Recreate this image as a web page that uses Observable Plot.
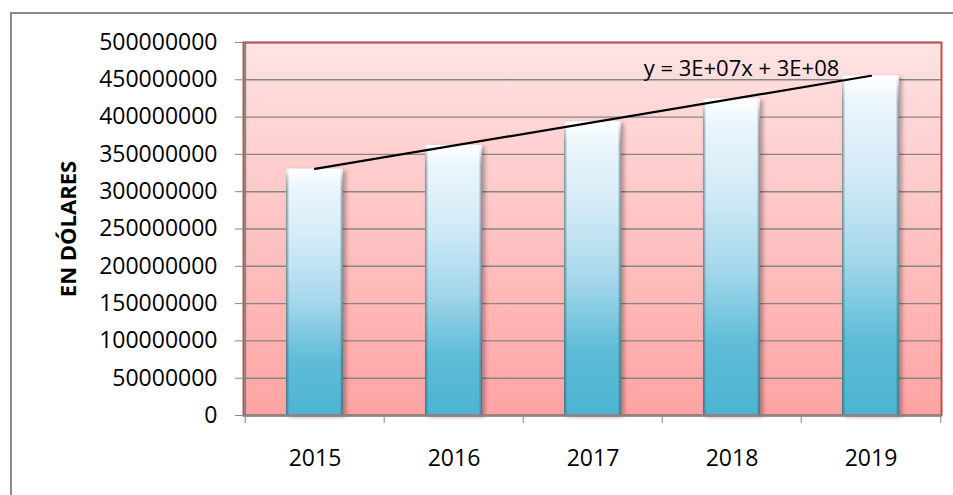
<!DOCTYPE html>
<html>
<head>
<meta charset="utf-8">
<script src="https://cdn.jsdelivr.net/npm/d3@7"></script>
<script src="https://cdn.jsdelivr.net/npm/@observablehq/plot@0.6"></script>
<style>
  html, body { margin: 0; padding: 0; background: #ffffff; overflow: hidden; }
  #wrap { position: relative; width: 953px; height: 495px; overflow: hidden; }
  #wrap svg { position: absolute; left: 0; top: 0; }
  #outer { position: absolute; left: 10px; top: 12px; width: 960px; height: 500px;
           border-left: 2px solid #8a8a8a; border-top: 2px solid #8a8a8a; pointer-events: none; }
</style>
</head>
<body>
<div id="wrap"><div id="outer"></div></div>
<script>
const years = ["2015", "2016", "2017", "2018", "2019"];
const amounts = [330200000, 362000000, 393700000, 424200000, 455000000];
const yTicks = [0, 50000000, 100000000, 150000000, 200000000, 250000000, 300000000, 350000000, 400000000, 450000000, 500000000];
const yTitle = "EN DÓLARES";
const trendLabel = "y = 3E+07x + 3E+08";

(function () {
const data = years.map((year, i) => ({year, value: amounts[i]}));

// least-squares trend line over the bars (index 0..n-1)
const n = amounts.length;
const mx = d3.mean(amounts, (_, i) => i);
const my = d3.mean(amounts);
const slope = d3.sum(amounts, (v, i) => (i - mx) * (v - my)) / d3.sum(amounts, (_, i) => (i - mx) ** 2);
const icpt = my - slope * mx;
const trend = [0, n - 1].map(i => ({year: years[i], value: icpt + slope * i}));

const W = 953, H = 495, ML = 243, MR = 12, MT = 42, MB = 80;
const step = (W - ML - MR) / years.length;

const chart = Plot.plot({
  width: W, height: H,
  marginLeft: ML, marginRight: MR, marginTop: MT, marginBottom: MB,
  style: {fontFamily: "'Open Sans', sans-serif", fontSize: "23px", color: "#000", background: "transparent", overflow: "visible"},
  x: {domain: years, padding: 0, label: null},
  y: {domain: [0, 500000000], label: null},
  marks: [
    Plot.frame({fill: "url(#bgGrad)", stroke: "none"}),
    Plot.gridY(yTicks, {stroke: "#868686", strokeOpacity: 1, strokeWidth: 1.4}),
    Plot.barY(data, {x: "year", y: "value", fill: "url(#barGrad)", insetLeft: 41, insetRight: 41}),
    Plot.barY(data, {x: "year", y: "value", fill: "url(#bevelGrad)", insetLeft: 41, insetRight: 41}),
    Plot.barY(data, {x: "year", y: "value", fill: "url(#topGrad)", insetLeft: 41, insetRight: 41}),
    Plot.frame({stroke: "#C0504D", strokeWidth: 2}),
    Plot.ruleX([years[0]], {dx: -step / 2, stroke: "#868686", strokeWidth: 2}),
    Plot.ruleY([0], {stroke: "#868686", strokeWidth: 2}),
    Plot.axisY(yTicks, {tickSize: 8, tickPadding: 18, tickFormat: d => String(d), stroke: "#868686", label: null}),
    Plot.axisX({tickSize: 0, tickPadding: 34, label: null}),
    Plot.axisX({tickSize: 8, text: null, dx: -step / 2, stroke: "#868686", label: null}),
    Plot.axisX([years[years.length - 1]], {tickSize: 8, text: null, dx: step / 2, stroke: "#868686", label: null}),
    Plot.line(trend, {x: "year", y: "value", stroke: "#000", strokeWidth: 2.2}),
    Plot.text([trendLabel], {text: d => d, frameAnchor: "top-right", dx: -200, dy: 18, textAnchor: "middle", fontSize: 22}),
    Plot.text([yTitle], {text: d => d, frameAnchor: "left", rotate: -90, dx: -175, textAnchor: "middle", fontWeight: "bold", fontSize: 22})
  ]
});

const svg = d3.select(chart);
const defs = svg.insert("defs", ":first-child");
const bg = defs.append("linearGradient").attr("id", "bgGrad").attr("x1", 0).attr("y1", 0).attr("x2", 0).attr("y2", 1);
bg.append("stop").attr("offset", "0%").attr("stop-color", "#FFE3E3");
bg.append("stop").attr("offset", "100%").attr("stop-color", "#FFA3A3");

const barG = defs.append("linearGradient").attr("id", "barGrad").attr("x1", 0).attr("y1", 0).attr("x2", 0).attr("y2", 1);
[["0%", "#F3FAFE"], ["30%", "#D2EAF6"], ["55%", "#A2D6EB"], ["78%", "#5EBCD7"], ["100%", "#4DB4D2"]]
  .forEach(([o, c]) => barG.append("stop").attr("offset", o).attr("stop-color", c));

const bevG = defs.append("linearGradient").attr("id", "bevelGrad").attr("x1", 0).attr("y1", 0).attr("x2", 1).attr("y2", 0);
[["0%", "#3a4a55", 0.6], ["6%", "#3a4a55", 0.0], ["94%", "#3a4a55", 0.0], ["100%", "#3a4a55", 0.6]]
  .forEach(([o, c, a]) => bevG.append("stop").attr("offset", o).attr("stop-color", c).attr("stop-opacity", a));

const topG = defs.append("linearGradient").attr("id", "topGrad").attr("x1", 0).attr("y1", 0).attr("x2", 0).attr("y2", 1);
[["0%", "#ffffff", 0.9], ["4%", "#ffffff", 0.3], ["8%", "#ffffff", 0.0], ["100%", "#ffffff", 0.0]]
  .forEach(([o, c, a]) => topG.append("stop").attr("offset", o).attr("stop-color", c).attr("stop-opacity", a));

svg.selectAll('g[aria-label="bar"]').filter((_, i) => i === 0)
  .style("filter", "drop-shadow(3px 2px 2px rgba(0,0,0,0.3))");

document.getElementById("wrap").prepend(chart);
})();
</script>
</body>
</html>
